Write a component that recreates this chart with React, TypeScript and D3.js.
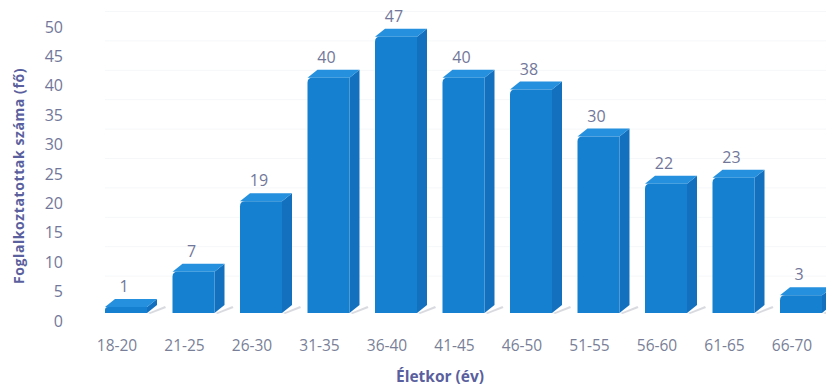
import React from "react";
import * as d3 from "d3";

const categories = ["18-20", "21-25", "26-30", "31-35", "36-40", "41-45", "46-50", "51-55", "56-60", "61-65", "66-70"];
const counts = [1, 7, 19, 40, 47, 40, 38, 30, 22, 23, 3];
const yTicks = [0, 5, 10, 15, 20, 25, 30, 35, 40, 45, 50];

const W = 826;
const H = 387;

export default function App() {
  // band: each category gets one step; bar front face is a fixed width inside it
  const x = d3
    .scaleBand<string>()
    .domain(categories)
    .range([95, 95 + 67.5 * categories.length])
    .paddingInner(0)
    .paddingOuter(0);
  const y = d3.scaleLinear().domain([0, 50]).range([313, 19]);

  const frontW = 42;
  const dx = 10; // depth offset of the 3D box
  const dy = 8;
  const base = y(0);

  const front = "#1580d0";
  const side = "#1270bf";
  const top = "#2590de";

  return (
    <svg width={W} height={H} style={{ display: "block", position: "absolute", left: 0, top: 0, background: "#fff" }}>
      <rect width={W} height={H} fill="#ffffff" />
      {/* faint back-wall gridlines */}
      {yTicks.slice(1).map((t) => (
        <line key={"g" + t} x1={105} x2={W} y1={y(t) - dy + 0.5} y2={y(t) - dy + 0.5} stroke="#f6f7f9" strokeWidth={1} />
      ))}

      {/* y tick labels */}
      {yTicks.map((t) => (
        <text
          key={"t" + t}
          x={63}
          y={y(t) + 8}
          dy="0.35em"
          textAnchor="end"
          fontFamily="'Open Sans', 'DejaVu Sans', sans-serif"
          fontSize={16}
          fill="#72779a"
        >
          {t}
        </text>
      ))}

      {/* bars */}
      {categories.map((c, i) => {
        const x0 = (x(c) as number) + 10;
        const x1 = x0 + frontW;
        const yt = y(counts[i]);
        const ch = Math.min(5, (base - yt) / 2);
        return (
          <g key={c}>
            <polygon
              points={`${x1 + 1},${base} ${x1 + dx + 8},${base - dy + 1} ${x1 + dx + 9},${base - dy + 3} ${x1 + 3},${base + 1}`}
              fill="#c9cad3"
              opacity={0.7}
            />
            <polygon
              points={`${x1},${yt} ${x1 + dx},${yt - dy} ${x1 + dx},${base - dy} ${x1},${base}`}
              fill={side}
            />
            <polygon
              points={`${x0},${yt} ${x1},${yt} ${x1 + dx},${yt - dy} ${x0 + dx},${yt - dy}`}
              fill={top}
            />
            <path
              d={`M${x0},${base} L${x0},${yt + ch} Q${x0},${yt} ${x0 + ch},${yt} L${x1},${yt} L${x1},${base} Z`}
              fill={front}
            />
            <text
              x={x0 + 19}
              y={yt - dy - 7}
              textAnchor="middle"
              fontFamily="'Open Sans', 'DejaVu Sans', sans-serif"
              fontSize={16}
              fill="#72779a"
            >
              {counts[i]}
            </text>
            <text
              x={x0 + frontW / 2 - 9}
              y={351}
              textAnchor="middle"
              fontFamily="'Open Sans', 'DejaVu Sans', sans-serif"
              fontSize={15.5}
              fill="#7a7f98"
            >
              {c}
            </text>
          </g>
        );
      })}

      {/* axis titles */}
      <text
        transform={`translate(24,${176}) rotate(-90)`}
        textAnchor="middle"
        fontFamily="'Open Sans', 'DejaVu Sans', sans-serif"
        fontWeight="bold"
        fontSize={14}
        letterSpacing={0.6}
        fill="#5a5f9e"
      >
        Foglalkoztatottak száma (fő)
      </text>
      <text
        x={440}
        y={382}
        textAnchor="middle"
        fontFamily="'Open Sans', 'DejaVu Sans', sans-serif"
        fontWeight="bold"
        fontSize={15.5}
        fill="#5a5f9e"
      >
        Életkor (év)
      </text>
    </svg>
  );
}
